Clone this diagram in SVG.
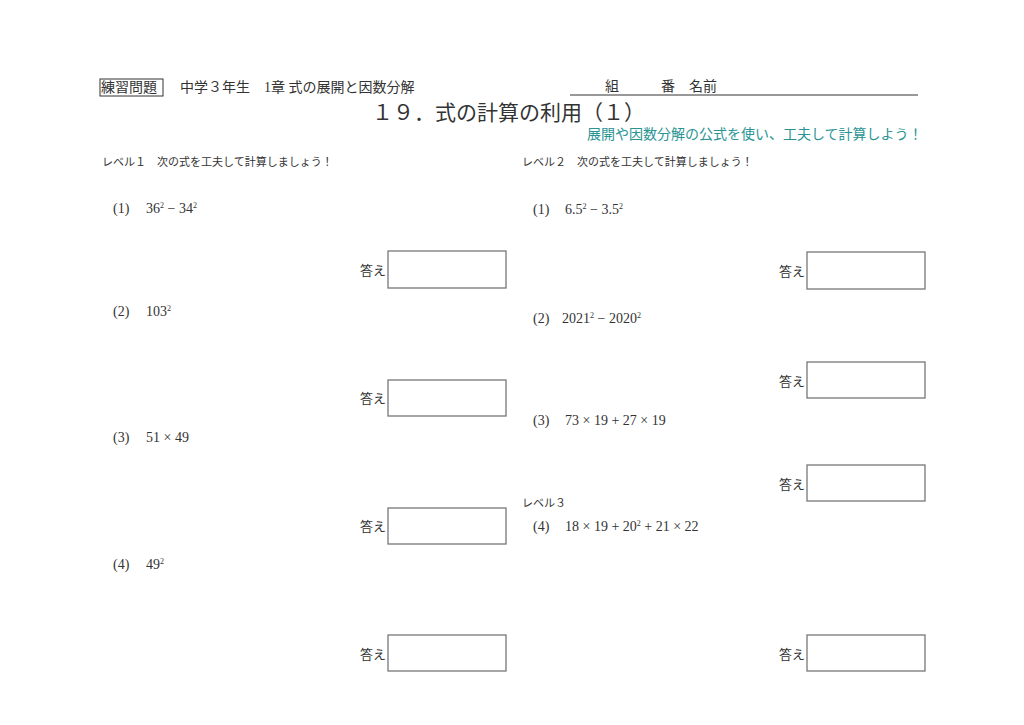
<svg xmlns="http://www.w3.org/2000/svg" width="1024" height="725" viewBox="0 0 1024 725">
<style>
text{font-family:"Liberation Serif","Noto Sans CJK JP",serif;fill:#333}
.h{font-size:14px}
.lv{font-size:11px}
.p{font-size:14px}
.a{font-size:13px}
.box{fill:none;stroke:#777;stroke-width:1.3}
.sup{font-size:8px}
</style>
<rect width="1024" height="725" fill="#fff"/>
<g id="header">
<rect x="100" y="79" width="63" height="17" fill="none" stroke="#333" stroke-width="1"/>
<text class="h" x="101" y="92">練習問題</text>
<text class="h" x="180" y="92">中学３年生　1章 式の展開と因数分解</text>
<text class="h" x="605" y="91">組　　　番　名前</text>
<line x1="570" y1="95" x2="918" y2="95" stroke="#333" stroke-width="1"/>
<text x="372" y="120" style="font-size:21px;font-family:'Noto Sans CJK JP',sans-serif">１９．式の計算の利用（１）</text>
<text x="587" y="139" style="font-size:14px;font-family:'Noto Sans CJK JP',sans-serif;fill:#2a9494">展開や因数分解の公式を使い、工夫して計算しよう！</text>
<text class="lv" x="102" y="166">レベル１　次の式を工夫して計算しましょう！</text>
<text class="lv" x="522" y="166">レベル２　次の式を工夫して計算しましょう！</text>
<text class="lv" x="522" y="507">レベル３</text>
</g>
<g id="left">
<text class="p" x="113" y="213">(1)</text><text class="p" x="146" y="213">36<tspan class="sup" dy="-5">2</tspan><tspan dy="5"> − 34</tspan><tspan class="sup" dy="-5">2</tspan></text>
<text class="p" x="113" y="316">(2)</text><text class="p" x="146" y="316">103<tspan class="sup" dy="-5">2</tspan></text>
<text class="p" x="113" y="442">(3)</text><text class="p" x="146" y="442">51 × 49</text>
<text class="p" x="113" y="569">(4)</text><text class="p" x="146" y="569">49<tspan class="sup" dy="-5">2</tspan></text>
<text class="a" x="360" y="275">答え</text><rect class="box" x="388" y="251" width="118" height="37"/>
<text class="a" x="360" y="403">答え</text><rect class="box" x="388" y="380" width="118" height="36"/>
<text class="a" x="360" y="531">答え</text><rect class="box" x="388" y="508" width="118" height="36"/>
<text class="a" x="360" y="659">答え</text><rect class="box" x="388" y="635" width="118" height="36"/>
</g>
<g id="right">
<text class="p" x="533" y="214">(1)</text><text class="p" x="565" y="214">6.5<tspan class="sup" dy="-5">2</tspan><tspan dy="5"> − 3.5</tspan><tspan class="sup" dy="-5">2</tspan></text>
<text class="p" x="533" y="323">(2)</text><text class="p" x="562" y="323">2021<tspan class="sup" dy="-5">2</tspan><tspan dy="5"> − 2020</tspan><tspan class="sup" dy="-5">2</tspan></text>
<text class="p" x="533" y="425">(3)</text><text class="p" x="565" y="425">73 × 19 + 27 × 19</text>
<text class="p" x="533" y="531">(4)</text><text class="p" x="565" y="531">18 × 19 + 20<tspan class="sup" dy="-5">2</tspan><tspan dy="5"> + 21 × 22</tspan></text>
<text class="a" x="779" y="276">答え</text><rect class="box" x="807" y="252" width="118" height="37"/>
<text class="a" x="779" y="386">答え</text><rect class="box" x="807" y="362" width="118" height="36"/>
<text class="a" x="779" y="489">答え</text><rect class="box" x="807" y="465" width="118" height="36"/>
<text class="a" x="779" y="659">答え</text><rect class="box" x="807" y="635" width="118" height="36"/>
</g>
</svg>
